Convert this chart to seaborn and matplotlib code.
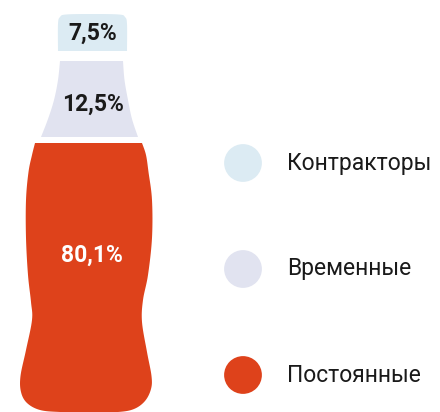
import numpy as np
import matplotlib
matplotlib.use("Agg")
import matplotlib.pyplot as plt
from matplotlib.patches import Polygon
import seaborn as sns

# data
categories = ['Контракторы', 'Временные', 'Постоянные']
shares = [7.5, 12.5, 80.1]
colors = ['#dcebf3', '#e1e3f0', '#de421b']
label_colors = ['#1a1a1a', '#1a1a1a', 'white']


def catmull(pts, n=10):
    # smooth outline through the control points
    pts = np.asarray(pts, float)
    p = np.vstack([pts[0], pts, pts[-1]])
    t = np.linspace(0, 1, n, endpoint=False)[:, None]
    out = []
    for i in range(1, len(p) - 2):
        p0, p1, p2, p3 = p[i - 1], p[i], p[i + 1], p[i + 2]
        out.append(0.5 * (2 * p1 + (-p0 + p2) * t
                          + (2 * p0 - 5 * p1 + 4 * p2 - p3) * t ** 2
                          + (-p0 + 3 * p1 - 3 * p2 + p3) * t ** 3))
    out.append(pts[-1:])
    return np.vstack(out)


# bottle pieces (pixel layout of the drawing, top to bottom)
cap = catmull([(58, 51), (58, 24), (60, 17), (66, 14.5), (92, 14), (119, 14.5),
               (125, 17), (127, 24), (127, 51)])
neck = np.vstack([catmull([(60, 61), (58, 80), (54, 100), (48, 119), (41, 137)]),
                  catmull([(138, 137), (132, 119), (128, 100), (124.5, 80), (123, 61)])])
body = catmull([(35, 143), (32, 155), (28.5, 172), (26, 200), (26, 238), (28, 275),
                (31, 302), (32, 320), (26, 350), (20.5, 376), (21, 392), (27, 403),
                (40, 410), (60, 412), (89, 412.5), (118, 412), (134, 409), (145, 401),
                (151, 389), (151.5, 376), (147, 352), (142, 322), (143, 300), (148, 275),
                (152, 238), (152, 200), (148.5, 172), (146, 155), (142, 143)])
shapes = [cap, neck, body]
label_pos = [(93, 33), (93, 104), (92, 255)]

sns.set_style("white")
plt.rcParams['font.family'] = ['Roboto', 'DejaVu Sans']

fig = plt.figure(figsize=(4.4, 4.12), dpi=100)
ax = fig.add_axes([0, 0, 1, 1])
ax.set_xlim(0, 440)
ax.set_ylim(412, 0)
ax.axis('off')

for shape, val, col, tcol, (lx, ly) in zip(shapes, shares, colors, label_colors, label_pos):
    ax.add_patch(Polygon(shape, closed=True, facecolor=col, edgecolor='none'))
    ax.text(lx, ly, f"{val:.1f}".replace('.', ',') + '%', ha='center', va='center',
            fontsize=16.5, fontweight='bold', color=tcol)

# legend: one dot per category
lax = fig.add_axes([224 / 440, (412 - 375) / 412, 216 / 440, 212 / 412])
df = {'x': [0] * len(categories), 'cat': categories}
sns.scatterplot(data=df, x='x', y='cat', hue='cat', palette=colors, s=740,
                edgecolor='none', legend=False, ax=lax, clip_on=False)
lax.set_xlim(-19, 197)
lax.set_ylim(len(categories) - 1, 0)
for i, cat in enumerate(categories):
    lax.text(44, i, cat, va='center', ha='left', fontsize=16.5, color='#1a1a1a')
lax.axis('off')

fig.savefig('out.png', dpi=100)
